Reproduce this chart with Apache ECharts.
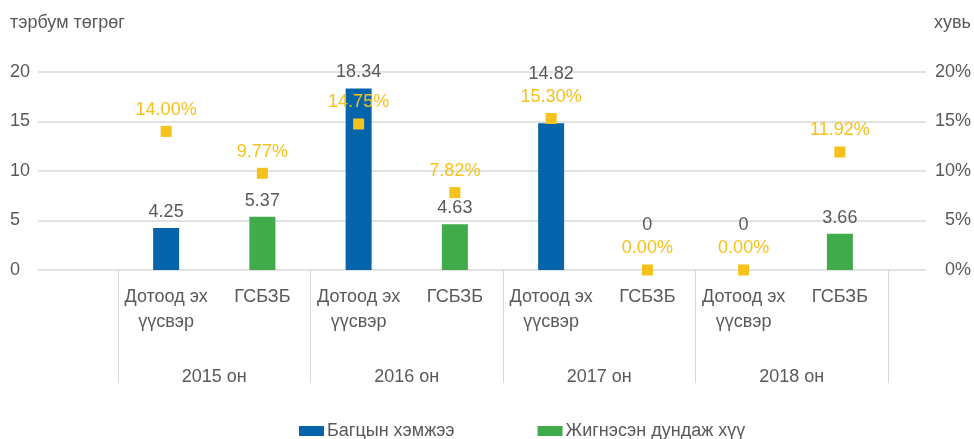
<!DOCTYPE html>
<html>
<head>
<meta charset="utf-8">
<style>
  html, body { margin: 0; padding: 0; background: #fff; }
  #chart { width: 974px; height: 439px; }
</style>
<script src="https://cdn.jsdelivr.net/npm/echarts@6/dist/echarts.min.js"></script>
</head>
<body>
<div id="chart"></div>
<script>
// ангилал, он
const categories = ['Дотоод эх\nүүсвэр', 'ГСБЗБ', 'Дотоод эх\nүүсвэр', 'ГСБЗБ',
  'Дотоод эх\nүүсвэр', 'ГСБЗБ', 'Дотоод эх\nүүсвэр', 'ГСБЗБ']
const years = ['2015 он', '2016 он', '2017 он', '2018 он']
// багцын хэмжээ (тэрбум төгрөг)
const portfolio = [4.25, 5.37, 18.34, 4.63, 14.82, 0, 0, 3.66]
// жигнэсэн дундаж хүү (%)
const rates = [14.00, 9.77, 14.75, 7.82, 15.30, 0.00, 0.00, 11.92]
const leftTicks = [0, 5, 10, 15, 20]
const rightTicks = [0, 5, 10, 15, 20]

const BLUE = '#0664AB'
const GREEN = '#40AB4A'
const YELLOW = '#F6C11B'
const GREY = '#595959'
const LINE = '#D9D9D9'
const FONT = '"Liberation Sans", Arial, sans-serif'
const FS = 18

// label lift for bars whose label sits above the rate label
const labelDist = [7, 7, 7, 7, 40, 36, 36, 7]

const chart = echarts.init(document.getElementById('chart'))

const option = {
  animation: false,
  textStyle: { fontFamily: FONT, color: GREY },
  title: [
    { text: 'тэрбум төгрөг', left: 5, top: 9, textStyle: { fontSize: FS, fontWeight: 'normal', color: GREY, fontFamily: FONT } },
    { text: 'хувь', right: -2, top: 9, textStyle: { fontSize: FS, fontWeight: 'normal', color: GREY, fontFamily: FONT } }
  ],
  legend: {
    left: 294,
    top: 417,
    itemWidth: 25,
    itemHeight: 10,
    itemGap: 83,
    icon: 'rect',
    textStyle: { fontSize: FS, color: GREY, fontFamily: FONT, padding: [0, 0, 0, -2] },
    data: [
      { name: 'Багцын хэмжээ', itemStyle: { color: BLUE, opacity: 1 } },
      { name: 'Жигнэсэн дундаж хүү', itemStyle: { color: GREEN, opacity: 1 } }
    ]
  },
  grid: [
    { left: 38, right: 47, top: 72, bottom: 169 },
    { left: 118, right: 86, top: 72, bottom: 169 }
  ],
  xAxis: [
    { gridIndex: 0, type: 'category', data: categories, show: false },
    {
      gridIndex: 1,
      type: 'category',
      data: categories,
      axisLine: { show: false },
      axisTick: { show: false },
      axisLabel: { interval: 0, margin: 15, fontSize: FS, lineHeight: 25, color: GREY, fontFamily: FONT }
    },
    {
      gridIndex: 1,
      type: 'category',
      data: years,
      position: 'bottom',
      axisLine: { show: false },
      axisTick: { show: true, interval: 0, length: 113, lineStyle: { color: LINE } },
      axisLabel: { interval: 0, margin: 98, fontSize: FS, color: GREY, fontFamily: FONT }
    }
  ],
  yAxis: [
    {
      gridIndex: 0,
      type: 'value',
      min: leftTicks[0],
      max: leftTicks[leftTicks.length - 1],
      interval: 5,
      axisLine: { show: false },
      axisTick: { show: false },
      splitLine: { lineStyle: { color: LINE, width: 1.5 } },
      axisLabel: { align: 'left', margin: 28, fontSize: FS, color: GREY, fontFamily: FONT }
    },
    {
      gridIndex: 0,
      type: 'value',
      position: 'right',
      min: rightTicks[0],
      max: rightTicks[rightTicks.length - 1],
      interval: 5,
      axisLine: { show: false },
      axisTick: { show: false },
      splitLine: { show: false },
      axisLabel: { align: 'right', margin: 45, fontSize: FS, color: GREY, fontFamily: FONT, formatter: '{value}%' }
    },
    { gridIndex: 1, type: 'value', min: 0, max: 20, show: false },
    { gridIndex: 1, type: 'value', min: 0, max: 20, show: false }
  ],
  series: [
    {
      name: 'Багцын хэмжээ',
      type: 'bar',
      xAxisIndex: 1,
      yAxisIndex: 2,
      barWidth: 26,
      data: portfolio.map((v, i) => ({
        value: v,
        itemStyle: { color: i % 2 === 0 ? BLUE : GREEN },
        label: { distance: labelDist[i] }
      })),
      label: {
        show: true,
        position: 'top',
        fontSize: FS,
        color: GREY,
        fontFamily: FONT
      }
    },
    {
      name: 'Жигнэсэн дундаж хүү',
      type: 'scatter',
      xAxisIndex: 1,
      yAxisIndex: 3,
      symbol: 'rect',
      symbolSize: 11,
      itemStyle: { color: YELLOW, opacity: 1 },
      data: rates,
      z: 5,
      label: {
        show: true,
        position: 'top',
        distance: 7,
        fontSize: FS,
        color: YELLOW,
        fontFamily: FONT,
        formatter: p => p.value.toFixed(2) + '%'
      }
    }
  ]
}

chart.setOption(option)
</script>
</body>
</html>
